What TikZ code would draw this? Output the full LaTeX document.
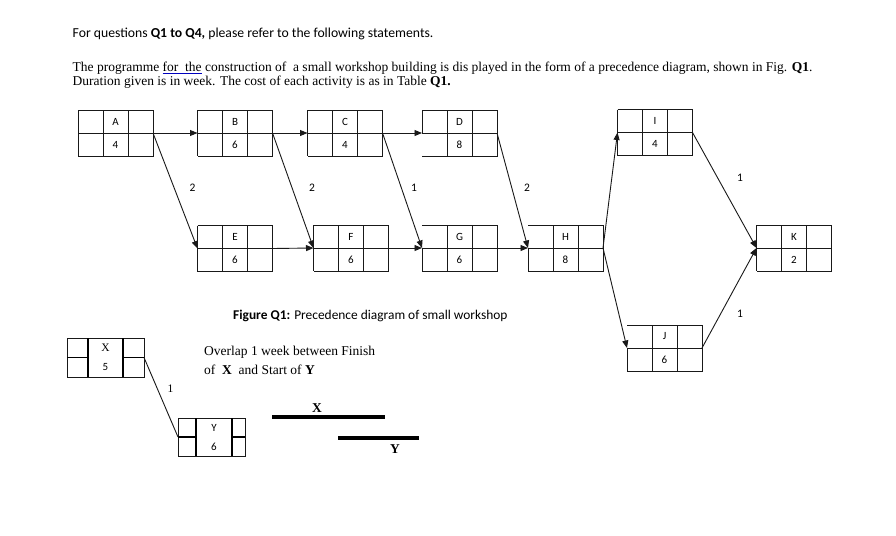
\documentclass[tikz,border=0pt]{standalone}
\usepackage{fontspec}
\setmainfont{Liberation Serif}
\newfontfamily\calib{Carlito}
\usetikzlibrary{arrows.meta,calc}
\newlength\ulwd
\newcommand\blueuline[1]{\settowidth\ulwd{#1}\rlap{\textcolor{blue!75!black}{\rule[-1.8pt]{\ulwd}{0.7pt}}}#1}
\tikzset{
  boxline/.style={line width=0.9pt, draw=black!90},
  boldline/.style={line width=1.9pt, draw=black},
  actnode/.style={minimum width=75pt, minimum height=46pt, inner sep=0pt, outer sep=0pt},
  lbl/.style={font=\calib\fontsize{11}{13}\selectfont, inner sep=0pt},
  lag/.style={font=\calib\fontsize{11.5}{13}\selectfont, inner sep=0pt},
  conn/.style={line width=0.9pt, draw=black!90, -{Triangle[length=7.5pt,width=6pt]}},
  plainconn/.style={line width=0.9pt, draw=black!90},
  bodyserif/.style={font=\fontsize{13.5}{15}\selectfont, anchor=base west, inner sep=0pt},
  bodysans/.style={font=\calib\fontsize{13.7}{15}\selectfont, anchor=base west, inner sep=0pt},
  bar/.style={line width=3.8pt, draw=black},
  barlbl/.style={font=\bfseries\fontsize{13.5}{15}\selectfont, inner sep=0pt},
}
\newcommand\actbox[6]{%
  \node[actnode] (#1) at (#2,#3) {};
  \draw[boxline] (#1.north west) -- (#1.north east) -- (#1.south east) -- (#1.south west);
  \draw[boxline] (#1.west) -- (#1.east);
  \draw[boxline] ($(#1.north west)!1/3!(#1.north east)$) -- ($(#1.south west)!1/3!(#1.south east)$);
  \draw[boxline] ($(#1.north west)!2/3!(#1.north east)$) -- ($(#1.south west)!2/3!(#1.south east)$);
  \ifcase#6 \draw[boxline] (#1.north west) -- (#1.south west);
  \or \draw[boxline] (#1.north west) -- (#1.west);
  \or \draw[boxline] (#1.west) -- (#1.south west);
  \fi
  \node[lbl] (#1-name) at ($(#1.north)!0.5!(#1.center)$) {#4};
  \node[lbl] (#1-dur) at ($(#1.south)!0.5!(#1.center)$) {#5};
}
\begin{document}
\begin{tikzpicture}[x=1pt,y=-1pt]
\useasboundingbox[fill=white] (0,0) rectangle (896,535);

% heading text
\node[bodysans] (line1) at (72.5,37.3) {For questions \textbf{Q1 to Q4,} please refer to the following statements.};
\node[bodyserif] (line2) at (72.5,71.5) {The programme \blueuline{for\ \ the} construction of\ \ a small workshop building is dis played in the form of a precedence diagram, shown in Fig. \textbf{Q1}.};
\node[bodyserif] (line3) at (72.5,85.5) {Duration given is in week. The cost of each activity is as in Table \textbf{Q1.}};

% activity boxes
\actbox{A}{115.5}{133}{A}{4}{0}
\actbox{B}{235}{133}{B}{6}{0}
\actbox{C}{345}{133}{C}{4}{0}
\actbox{D}{459.5}{133}{D}{8}{1}
\actbox{I}{655}{132.5}{I}{4}{0}
\actbox{E}{235}{248.5}{E}{6}{0}
\actbox{F}{351}{248}{F}{6}{0}
\actbox{G}{459.5}{248}{G}{6}{2}
\actbox{H}{565.5}{248}{H}{8}{2}
\actbox{K}{794}{248}{K}{2}{0}
\actbox{J}{664.5}{348}{J}{6}{2}

% connectors
\draw[conn] (A.east) -- (B.west);
\draw[conn] (B.east) -- (C.west);
\draw[conn] (C.east) -- (D.west);
\draw[conn] (E.east) -- (F.west);
\draw[conn] (F.east) -- (G.west);
\draw[conn] (G.east) -- (H.west);
\draw[conn] (A.east) -- (E.west);
\draw[conn] (B.east) -- (F.west);
\draw[conn] (C.east) -- (G.west);
\draw[conn] (D.east) -- (H.west);
\draw[conn] (H.east) -- (I.west);
\draw[conn] (H.east) -- (J.west);
\draw[conn] (I.east) -- (K.west);
\draw[conn] (J.east) -- (K.west);

% lag labels
\node[lag] (lagAE) at (192.5,188) {2};
\node[lag] (lagBF) at (312,188) {2};
\node[lag] (lagCG) at (414,188) {1};
\node[lag] (lagDH) at (527,188) {2};
\node[lag] (lagIK) at (740,177.5) {1};
\node[lag] (lagJK) at (740,313.5) {1};

% caption
\node[font=\calib\fontsize{13.4}{15}\selectfont, anchor=base west, inner sep=0pt] (caption) at (233,319.5) {\textbf{Figure Q1:} Precedence diagram of small workshop};

% X box
\node[minimum width=77pt, minimum height=39pt, inner sep=0pt, outer sep=0pt] (xbox) at (105.5,357.5) {};
\draw[boxline] (xbox.north west) rectangle (xbox.south east);
\draw[boldline] ($(xbox.north west)+(21,0)$) -- ($(xbox.south west)+(21,0)$);
\draw[boldline] ($(xbox.north east)+(-21,0)$) -- ($(xbox.south east)+(-21,0)$);
\draw[boldline] (xbox.west) -- ++(21,0);
\draw[boldline] (xbox.east) -- ++(-21,0);
\node[font=\fontsize{11.5}{13}\selectfont, inner sep=0pt] (xname) at ($(xbox.north)!0.5!(xbox.center)$) {X};
\node[lbl] (xdur) at ($(xbox.south)!0.5!(xbox.center)$) {5};

% Y box
\node[minimum width=67pt, minimum height=38pt, inner sep=0pt, outer sep=0pt] (ybox) at (211.5,437) {};
\draw[boxline] (ybox.north west) rectangle (ybox.south east);
\draw[boldline] ($(ybox.north west)+(18,0)$) -- ($(ybox.south west)+(18,0)$);
\draw[boldline] ($(ybox.north west)+(54,0)$) -- ($(ybox.south west)+(54,0)$);
\draw[boldline] (ybox.west) -- ++(18,0);
\draw[boldline] ($(ybox.west)+(54,0)$) -- (ybox.east);
\node[lbl] (yname) at ($(ybox.north west)+(36,9.5)$) {Y};
\node[lbl] (ydur) at ($(ybox.north west)+(36,28.5)$) {6};

\draw[plainconn] (xbox.east) -- (ybox.west);
\node[font=\fontsize{11.5}{13}\selectfont, inner sep=0pt] (lagXY) at (170.5,389) {1};

% overlap note
\node[bodyserif] (note1) at (204,355) {Overlap 1 week between Finish};
\node[bodyserif] (note2) at (204,374) {of\ \ \textbf{X}\ \ and Start of \textbf{Y}};

% bars
\coordinate (xs) at (272,417);
\coordinate (xe) at (385,417);
\coordinate (ys) at (338,438);
\coordinate (ye) at (419,438);
\draw[bar] (xs) -- (xe);
\draw[bar] (ys) -- (ye);
\node[barlbl] (xbarlbl) at (317,408.5) {X};
\node[barlbl] (ybarlbl) at (395,449) {Y};
\end{tikzpicture}
\end{document}
